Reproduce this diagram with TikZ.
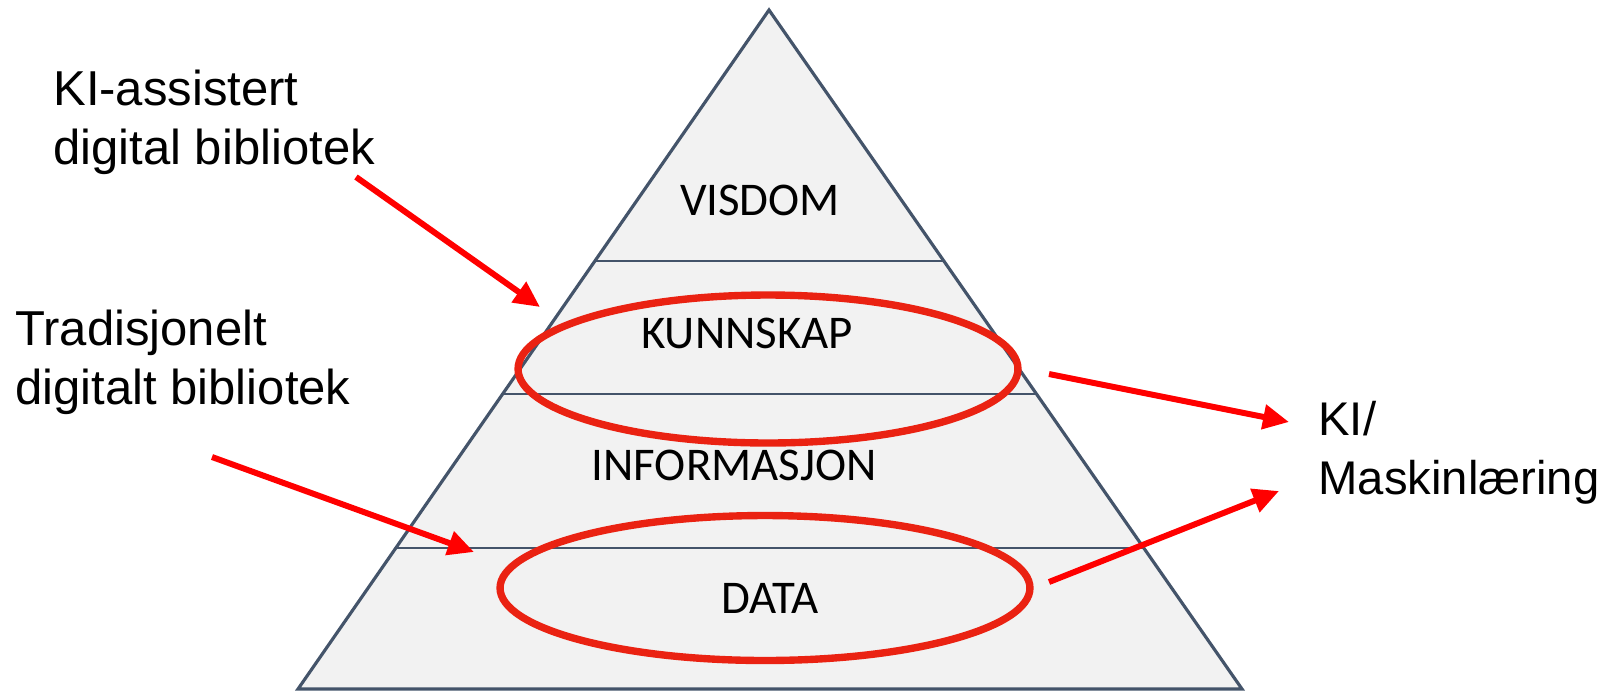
\documentclass[tikz,border=0pt]{standalone}
\usepackage{fontspec}
\usetikzlibrary{positioning, arrows.meta, calc, shapes.geometric}

\newfontfamily\layerfont{Carlito}
\newfontfamily\notefont{Liberation Sans}

\definecolor{pyrLine}{RGB}{68,84,106}
\definecolor{pyrFill}{RGB}{242,242,242}
\definecolor{ringRed}{RGB}{234,34,18}
\definecolor{arrowRed}{RGB}{255,0,0}

\begin{document}
\begin{tikzpicture}[
    x=0.02cm, y=-0.02cm,
    % --- STILURI ---
    pyramid/.style={
            draw=pyrLine,
            fill=pyrFill,
            line width=1.8pt,
            line join=miter
        },
    level/.style={
            draw=pyrLine,
            line width=1.1pt
        },
    layer/.style={
            font=\layerfont\fontsize{26.7pt}{32pt}\selectfont,
            anchor=base,
            inner sep=0pt
        },
    ring/.style={
            ellipse,
            draw=ringRed,
            line width=4.2pt,
            inner sep=0pt
        },
    note/.style={
            font=\notefont\fontsize{27.9pt}{33.2pt}\selectfont,
            align=left,
            anchor=north west,
            inner sep=0pt
        },
    redArrow/.style={
    -{Triangle[length=0.52cm, width=0.48cm]},
    line width=3.4pt,
    draw=arrowRed
    }
    ]

    \useasboundingbox (0,0) rectangle (1604,694);

    % 1. Piramida
    \coordinate (apex) at (769,10);
    \coordinate (baseL) at (298,689);
    \coordinate (baseR) at (1242,689);
    \draw[pyramid] (apex) -- (baseL) -- (baseR) -- cycle;

    % Liniile dintre niveluri
    \foreach \t in {0.369, 0.566, 0.793}
    \draw[level] ($(apex)!\t!(baseL)$) -- ($(apex)!\t!(baseR)$);

    % Nivelurile
    \node[layer] (visdom) at (760,215) {VISDOM};
    \node[layer] (kunnskap) at (747,348) {KUNNSKAP};
    \node[layer] (informasjon) at (734,480) {INFORMASJON};
    \node[layer] (data) at (770,613) {DATA};

    % 2. Elipsele rosii
    \node[ring, minimum width=10.0cm, minimum height=2.96cm] (ringKnow) at (768,369) {};
    \node[ring, minimum width=10.6cm, minimum height=2.9cm] (ringData) at (765,588) {};

    % 3. Textele din lateral
    \node[note] (aiLib) at (53,70) {KI-assistert\\digital bibliotek};
    \node[note] (tradLib) at (15,310) {Tradisjonelt\\digitalt bibliotek};
    \node[note, font=\notefont\fontsize{26.9pt}{33.4pt}\selectfont] (mlText) at (1318,401) {KI/\\Maskinlæring};

    % 4. Sagetile
    \coordinate (aiTail) at (356,177);
    \coordinate (aiTip) at (540,307);
    \coordinate (tradTail) at (212,457);
    \coordinate (tradTip) at (474,552);
    \coordinate (knowTail) at (1049,374);
    \coordinate (knowTip) at (1289,422);
    \coordinate (dataTail) at (1049,582);
    \coordinate (dataTip) at (1279,491);

    \draw[redArrow] (aiTail) -- (aiTip);
    \draw[redArrow] (tradTail) -- (tradTip);
    \draw[redArrow] (knowTail) -- (knowTip);
    \draw[redArrow] (dataTail) -- (dataTip);

\end{tikzpicture}
\end{document}
